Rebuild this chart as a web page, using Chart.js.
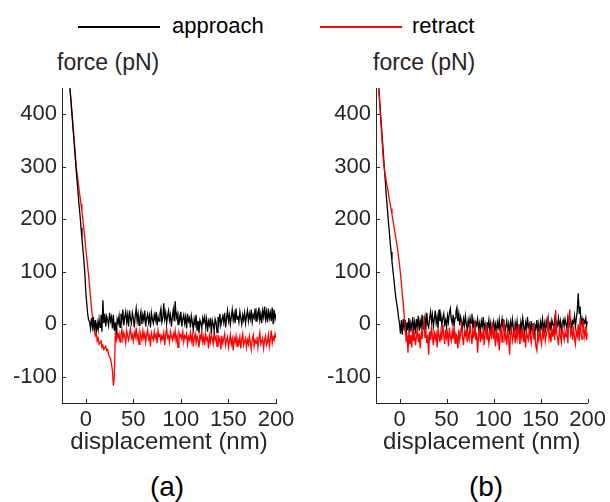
<!DOCTYPE html>
<html lang="en">
<head>
<meta charset="UTF-8">
<title>Approach / retract force curves</title>
<script src="https://cdn.jsdelivr.net/npm/chart.js"></script>
<style>
  body { margin: 0; background: #fff; font-family: 'Liberation Sans', Arial, sans-serif; }
  #page { position: relative; width: 610px; height: 502px; overflow: hidden; }
  .txt { position: absolute; white-space: nowrap; color: #000; line-height: 1; }
  .key { position: absolute; height: 0; border-top: 2.5px solid; }
  .panel { position: absolute; top: 70px; }
  .panel canvas { display: block; }
</style>
</head>
<body>
<div id="page">
  <!-- shared legend -->
  <div class="key" style="left:78px; top:26px; width:82px; border-color:#000"></div>
  <div class="txt" style="left:172px; top:15px; font-size:22px">approach</div>
  <div class="key" style="left:320px; top:26px; width:82px; border-color:#ff0000"></div>
  <div class="txt" style="left:412px; top:15px; font-size:22px">retract</div>

  <div class="txt" style="left:57px; top:51px; font-size:23px; color:#262626">force (pN)</div>
  <div class="txt" style="left:373px; top:51px; font-size:23px; color:#262626">force (pN)</div>

  <div class="panel" style="left:0"><canvas id="chartA" width="300" height="400"></canvas></div>
  <div class="panel" style="left:314px"><canvas id="chartB" width="296" height="400"></canvas></div>

  <div class="txt" style="left:167px; top:473px; font-size:28px; transform:translateX(-50%)">(a)</div>
  <div class="txt" style="left:486px; top:473px; font-size:28px; transform:translateX(-50%)">(b)</div>
</div>

<script>
// samples start at -25 nm, one every nm up to 200 nm
const xStart = -25;
const xStep = 1;

const xTicks = [0, 50, 100, 150, 200];
const yTicks = [-100, 0, 100, 200, 300, 400];

// panel (a)
const approachA = [
  640, 617, 594, 571, 548, 525, 502, 480, 458, 436, 412, 388, 364, 340, 316,
  292, 270, 248, 226, 207, 184, 162, 143, 121, 98, 62, 40, 20, 8,
  5, -8, 12, -5, 14, -12, 8, -15, 3, -10,
  10, -6, 18, -14, 46, 2, 20, -4, 15, 8,
  -2, 22, 6, 14, -8, 18, -12, 4, -20, 10,
  2, 16, -6, 20, 8, 28, -2, 14, 24, 4,
  18, -4, 26, 10, 2, 22, 12, -6, 16, 30,
  6, 20, -2, 14, 24, 0, 18, 8, 26, -4,
  12, 20, 4, 16, -6, 22, 10, 2, 18, 8,
  24, -2, 14, 6, 20, 30, 4, 12, 40, 10,
  22, 2, 16, 26, 8, 18, -4, 14, 28, 6,
  44, 12, 20, 0, 16, 8, 24, -4, 10, 18,
  2, 14, -8, 20, 6, 12, -6, 16, 4, -10,
  10, 0, 18, -12, 6, -16, 8, 2, -8, 12,
  4, 14, -4, 10, -14, 6, -2, 12, -18, 8,
  0, -12, 10, 4, -16, 14, 2, 20, -2, 8,
  16, 4, 22, -6, 12, 26, 6, 18, 0, 14,
  28, 8, 20, 2, 30, 10, 16, 4, 24, 12,
  0, 18, 8, 22, 2, 16, 26, 6, 20, 10,
  28, 4, 18, 12, 30, 6, 22, 14, 32, 8,
  20, 2, 26, 14, 34, 10, 24, 4, 30, 12,
  22, 6, 32, 0, 28, 10, 20
];
const retractA = [
  640, 617, 594, 571, 548, 525, 502, 480, 458, 436, 414, 392, 370, 348, 324,
  300, 285, 271, 257, 243, 229, 215, 199, 181, 163, 145, 128, 110, 92, 72,
  52, 32, 14, 0, -12,
  -22, -16, -32, -26, -38, -35, -30, -44, -40, -48,
  -45, -42, -50, -48, -58, -62, -66, -75, -88, -117, -100,
  -22, -30, -14, -26, -18, -34, -20, -10, -28, -16,
  -24, -36, -12, -22, -30, -18, -8, -26, -20, -32,
  -16, -24, -6, -28, -20, -38, -14, -22, -30, -12,
  -26, -18, -34, -20, -10, -28, -22, -42, -16, -24,
  -30, -14, -26, -20, -36, -12, -24, -18, -32, -22,
  -28, -16, -40, -20, -8, -26, -22, -34, -14, -24,
  -30, -18, -26, -12, -32, -22, -44, -16, -24, -20,
  -28, -14, -34, -22, -26, -18, -38, -24, -30, -16,
  -32, -20, -42, -26, -18, -36, -22, -30, -44, -20,
  -28, -16, -34, -24, -40, -18, -30, -26, -46, -22,
  -34, -20, -28, -38, -14, -30, -24, -42, -20, -32,
  -26, -48, -22, -36, -28, -18, -40, -30, -24, -44,
  -32, -20, -38, -28, -50, -26, -34, -22, -42, -30,
  -36, -24, -46, -28, -18, -40, -32, -26, -44, -30,
  -38, -22, -34, -48, -28, -20, -42, -30, -36, -24,
  -44, -28, -16, -38, -32, -26, -46, -30, -22, -40,
  -34, -20, -42, -28, -12, -36, -24, -30, -18, -26
];

// panel (b)
const approachB = [
  527, 502, 476, 450, 424, 398, 372, 347, 320, 295, 270, 244, 222, 200, 180,
  158, 138, 120, 102, 86, 68, 52, 40, 28, 12, 2, -18, 8, -20, 10,
  -6, 8, -20, 4, -12, 12, -16, 2, -8, 14,
  -10, 4, -18, 10, -4, 16, -12, 6, -6, 18,
  -8, 2, 14, -10, 22, 0, -6, 12, 24, 4,
  18, -4, 10, 26, 2, 14, -8, 28, 6, 16,
  -2, 12, 20, 0, 8, -6, 16, 4, 22, 30,
  10, 2, 18, -4, 12, 24, 32, 6, 20, -2,
  14, 4, -8, 10, -2, 16, 0, -10, 8, -4,
  12, 2, 20, -6, 6, -12, 4, -2, 10, -8,
  2, -14, 6, -4, 14, -10, 0, -16, 4, -6,
  8, -12, 2, -18, -4, 6, -10, 0, -20, 4,
  -6, 8, -14, -2, 10, -8, 2, -16, -4, 6,
  -12, 0, -20, 4, -8, 10, -6, -24, 2, -10,
  6, -14, 0, -22, 4, -8, 12, -4, -18, 2,
  -10, 14, -6, 0, -20, 6, -12, 2, -26, -2,
  -8, 8, -14, 0, -22, 4, -6, 10, -10, 2,
  -16, 6, -4, 12, -8, 2, -12, 8, 0, -6,
  10, -10, 4, -2, 12, -6, 6, -14, 2, 8,
  -4, 10, 0, -8, 14, 4, -2, 8, -10, 6,
  2, 16, -4, 12, 26, 59, 20, 34, 0, 10,
  -6, 8, 2, 12, -4, 6
];
const retractB = [
  530, 502, 474, 446, 418, 390, 362, 334, 308, 294, 284, 272, 262, 252, 240,
  230, 220, 210, 198, 188, 176, 166, 154, 142, 128, 114, 96, 78, 58, 38,
  16, -6,
  -30, -22, -54, -12, -38, -20, -44, -8, -32, -16,
  -40, -24, -6, -34, -18, -46, -14, -28, -2, 16,
  -26, -10, -36, -20, -58, -14, -30, -4, -24, -40,
  -12, -28, -18, -44, -8, -22, -34, -14, -30, 0,
  -20, -38, -10, -26, -16, -42, -6, -24, -32, -12,
  -28, -4, -36, -18, -22, -46, -10, -30, -16, -2,
  -26, -40, -14, -22, -8, -34, -18, -28, 2, -20,
  -38, -12, -26, 6, -30, -16, -54, -22, -8, -34,
  -18, -26, -10, -40, -20, -2, -30, -14, -36, -22,
  -12, -28, 4, -24, -18, -42, -8, -30, -16, -50,
  -22, -6, -34, -14, 8, -28, -20, -40, -12, -24,
  -58, -18, -4, -32, -22, -10, -36, -16, -28, 0,
  -20, -38, -12, -26, -6, -34, -18, -44, -14, -24,
  -30, -8, -22, -36, -16, 2, -28, -20, -42, -50,
  -18, -30, -10, -26, -38, -14, -24, -6, -32, -20,
  -12, 15, -28, -18, -34, -8, -24, -2, -30, 27,
  -16, -26, -40, -10, -22, -34, -6, -18, -30, -14,
  -24, -8, -36, 10, 28, -20, -12, -30, -4, -26,
  -38, -14, -22, 0, -32, 12, -18, -28, 8, -10,
  -24, -4, -30, -16
];

const axisColor = '#262626';
const fontFamily = "'Liberation Sans', Arial, sans-serif";

function toPoints(values) {
  return values.map((f, i) => ({ x: xStart + i * xStep, y: f }));
}

// MATLAB style ticks pointing into the plot
const inwardTicks = {
  id: 'inwardTicks',
  afterDraw(chart) {
    const { ctx, chartArea, scales: { x, y } } = chart;
    ctx.save();
    ctx.strokeStyle = axisColor;
    ctx.lineWidth = 1;
    ctx.beginPath();
    x.ticks.forEach(t => {
      const px = Math.round(x.getPixelForValue(t.value)) + 0.5;
      ctx.moveTo(px, chartArea.bottom);
      ctx.lineTo(px, chartArea.bottom - 4);
    });
    y.ticks.forEach(t => {
      const py = Math.round(y.getPixelForValue(t.value)) + 0.5;
      ctx.moveTo(chartArea.left, py);
      ctx.lineTo(chartArea.left + 4, py);
    });
    ctx.stroke();
    ctx.restore();
  }
};

function makeChart(id, approach, retract, rightPad, redOnTop) {
  const black = {
    label: 'approach', data: toPoints(approach),
    borderColor: '#000000', borderWidth: 1.3, pointRadius: 0, order: redOnTop ? 2 : 1
  };
  const red = {
    label: 'retract', data: toPoints(retract),
    borderColor: '#ff0000', borderWidth: 1.3, pointRadius: 0, order: redOnTop ? 1 : 2
  };
  return new Chart(document.getElementById(id), {
    type: 'line',
    data: { datasets: [black, red] },
    options: {
      responsive: false,
      animation: false,
      layout: { padding: { top: 14, right: rightPad, left: 0, bottom: 0 } },
      plugins: { legend: { display: false }, tooltip: { enabled: false } },
      scales: {
        x: {
          type: 'linear', min: -25, max: 200,
          afterBuildTicks: s => { s.ticks = xTicks.map(v => ({ value: v })); },
          afterFit: s => { s.height = 67; },
          grid: { display: false, drawTicks: false },
          border: { display: true, color: axisColor, width: 1 },
          ticks: { padding: 4, color: axisColor, font: { family: fontFamily, size: 22 } },
          title: {
            display: true, text: 'displacement (nm)', color: axisColor,
            padding: { top: 0, bottom: 13 }, font: { family: fontFamily, size: 24 }
          }
        },
        y: {
          type: 'linear', min: -150, max: 450,
          afterBuildTicks: s => { s.ticks = yTicks.map(v => ({ value: v })); },
          afterFit: s => { s.width = 62; },
          grid: { display: false, drawTicks: false },
          border: { display: true, color: axisColor, width: 1 },
          ticks: { padding: 5, color: axisColor, font: { family: fontFamily, size: 22 } }
        }
      }
    },
    plugins: [inwardTicks]
  });
}

makeChart('chartA', approachA, retractA, 24, false);
makeChart('chartB', approachB, retractB, 19, true);
</script>
</body>
</html>
